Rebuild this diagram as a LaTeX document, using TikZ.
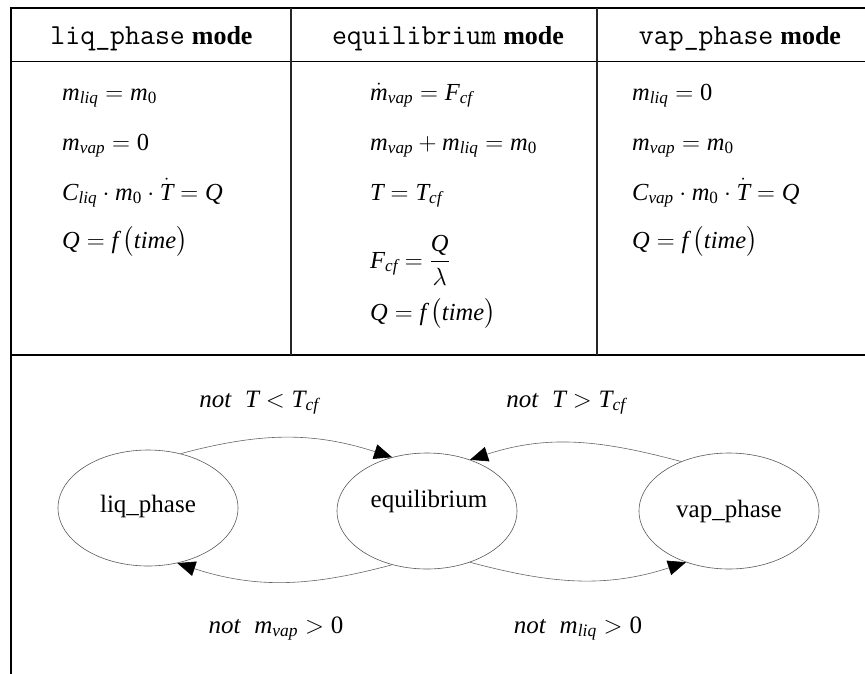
\documentclass[tikz,border=0pt]{standalone}
\usepackage{amsmath}
\usepackage{fontspec}
\setmainfont{Liberation Serif}
\usetikzlibrary{shapes.geometric,arrows.meta}
\newcommand\mv[1]{\mathit{#1}}
\newcommand\zr{\text{0}}
\begin{document}
\begin{tikzpicture}[x=1pt,y=-1pt,
  frame/.style={line width=2pt,black},
  divider/.style={line width=1.5pt,black!85},
  sepline/.style={line width=1pt,black},
  hd/.style={anchor=base,inner sep=0pt,font=\fontsize{26}{30}\selectfont},
  eq/.style={anchor=base west,inner sep=0pt,font=\fontsize{24.5}{28}\selectfont},
  lbl/.style={anchor=base,inner sep=0pt,font=\fontsize{25}{28}\selectfont},
  state/.style={ellipse,draw=black!65,line width=0.6pt,minimum width=180pt,minimum height=116pt,inner sep=0pt},
  stxt/.style={anchor=base,inner sep=0pt,font=\fontsize{25}{30}\selectfont},
  trans/.style={draw=black!60,line width=0.6pt,-{Triangle[length=18pt,width=15pt,color=black]}}]
\useasboundingbox (0,0) rectangle (865,673);
% table lines
\draw[frame] (866,8) -- (11,8) -- (11,674);
\draw[sepline] (11,61) -- (866,61);
\draw[frame] (11,355) -- (866,355);
\draw[divider] (291,8) -- (291,355);
\draw[divider] (597,8) -- (597,355);
% headers
\node[hd] (h1) at (151.5,44) {{\fontsize{29}{30}\selectfont\ttfamily liq\_phase}\hspace{7pt}\textbf{mode}};
\node[hd] (h2) at (448,44) {{\fontsize{29}{30}\selectfont\ttfamily equilibrium}\hspace{7pt}\textbf{mode}};
\node[hd] (h3) at (740,44) {{\fontsize{29}{30}\selectfont\ttfamily vap\_phase}\hspace{7pt}\textbf{mode}};
% column 1
\node[eq] (a1) at (62,100) {$\mv{m}_{\mv{liq}} = \mv{m}_\zr$};
\node[eq] (a2) at (62,150) {$\mv{m}_{\mv{vap}} = \zr$};
\node[eq] (a3) at (62,200) {$\mv{C}_{\mv{liq}} \cdot \mv{m}_\zr \cdot \dot{\mv{T}} = \mv{Q}$};
\node[eq] (a4) at (62,248) {$\mv{Q} = \mv{f}\,\bigl(\mv{time}\bigr)$};
% column 2
\node[eq] (b1) at (370,100) {$\dot{\mv{m}}_{\mv{vap}} = \mv{F}_{\mv{cf}}$};
\node[eq] (b2) at (370,150) {$\mv{m}_{\mv{vap}} + \mv{m}_{\mv{liq}} = \mv{m}_\zr$};
\node[eq] (b3) at (370,200) {$\mv{T} = \mv{T}_{\mv{cf}}$};
\node[eq] (b4) at (370,268) {$\displaystyle \mv{F}_{\mv{cf}} = \frac{\mv{Q}}{\lambda}$};
\node[eq] (b5) at (370,320) {$\mv{Q} = \mv{f}\,\bigl(\mv{time}\bigr)$};
% column 3
\node[eq] (c1) at (632,100) {$\mv{m}_{\mv{liq}} = \zr$};
\node[eq] (c2) at (632,150) {$\mv{m}_{\mv{vap}} = \mv{m}_\zr$};
\node[eq] (c3) at (632,200) {$\mv{C}_{\mv{vap}} \cdot \mv{m}_\zr \cdot \dot{\mv{T}} = \mv{Q}$};
\node[eq] (c4) at (632,248) {$\mv{Q} = \mv{f}\,\bigl(\mv{time}\bigr)$};
% states
\node[state] (liq) at (148,508) {};
\node[state] (equil) at (427,511) {};
\node[state] (vap) at (729,511) {};
\node[stxt] (tliq) at (148,512) {liq\_phase};
\node[stxt] (tequil) at (429,507) {equilibrium};
\node[stxt] (tvap) at (729,517) {vap\_phase};
% transitions
\draw[trans] (liq.59) to[out=15,in=162] (equil.123);
\draw[trans] (vap.134) to[out=165,in=18] (equil.50);
\draw[trans] (equil.237) to[out=195,in=-18] (liq.298);
\draw[trans] (equil.310) to[out=-15,in=198] (vap.230);
% labels
\node[lbl] (l1) at (259,407) {$\mv{not}\;\;\mv{T} < \mv{T}_{\mv{cf}}$};
\node[lbl] (l2) at (566,407) {$\mv{not}\;\;\mv{T} > \mv{T}_{\mv{cf}}$};
\node[lbl] (l3) at (276,633) {$\mv{not}\;\;\mv{m}_{\mv{vap}} > \zr$};
\node[lbl] (l4) at (578,633) {$\mv{not}\;\;\mv{m}_{\mv{liq}} > \zr$};
\end{tikzpicture}
\end{document}
